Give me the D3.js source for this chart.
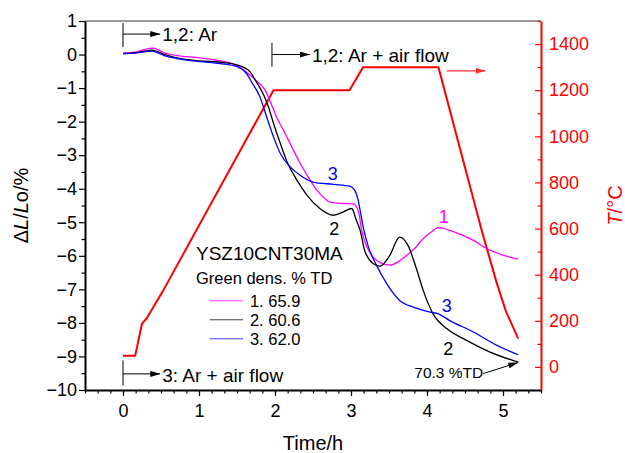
<!DOCTYPE html>
<html>
<head>
<meta charset="utf-8">
<script src="https://cdnjs.cloudflare.com/ajax/libs/d3/7.8.5/d3.min.js"></script>
<style>
    body { margin: 0; background: #fff; }
    svg { font-family: "Liberation Sans", Arial, Helvetica, sans-serif; }
</style>
</head>
<body>
<div id="chart"></div>
<script>
// curve 1 (magenta), time in h and dL/Lo in %
let time1 = [0, 0.16, 0.28, 0.4, 0.55, 0.71, 1.01, 1.28, 1.5, 1.67, 1.8, 1.87, 1.93, 2.02, 2.11, 2.22, 2.33, 2.45, 2.55, 2.65,
    2.72, 2.9, 3.03, 3.1, 3.14, 3.21, 3.29, 3.4, 3.51, 3.62, 3.73, 3.85, 3.95, 4.05, 4.15, 4.3, 4.45, 4.61, 4.79, 5.0, 5.2];
let dl1 = [0.04, 0.07, 0.15, 0.19, 0.04, -0.03, -0.1, -0.19, -0.33, -0.61, -0.88, -1.06, -1.36, -1.86, -2.25, -2.75, -3.24, -3.7, -4.04, -4.28,
    -4.4, -4.44, -4.45, -4.69, -5.24, -5.74, -6.04, -6.22, -6.28, -6.18, -5.99, -5.75, -5.49, -5.3, -5.16, -5.24, -5.37, -5.54, -5.79, -5.98, -6.1];

// curve 2 (black)
let time2 = [0, 0.16, 0.28, 0.38, 0.55, 0.71, 1.01, 1.28, 1.5, 1.67, 1.74, 1.85, 1.92, 1.98, 2.07, 2.15, 2.29, 2.42, 2.59, 2.77,
    2.9, 3.01, 3.07, 3.12, 3.18, 3.29, 3.38, 3.51, 3.64, 3.75, 3.86, 3.95, 4.08, 4.26, 4.52, 4.83, 5.2];
let dl2 = [0.03, 0.05, 0.1, 0.13, 0.0, -0.1, -0.19, -0.23, -0.31, -0.51, -0.76, -1.2, -1.6, -2.05, -2.65, -3.15, -3.75, -4.19, -4.59, -4.79,
    -4.69, -4.59, -4.94, -5.24, -5.84, -6.23, -6.31, -5.99, -5.44, -5.69, -6.38, -7.03, -7.73, -8.17, -8.52, -8.87, -9.17];

// curve 3 (blue)
let time3 = [0, 0.16, 0.28, 0.38, 0.55, 0.71, 1.01, 1.28, 1.5, 1.62, 1.7, 1.8, 1.89, 1.98, 2.07, 2.2, 2.33, 2.5, 2.77, 2.99,
    3.05, 3.09, 3.12, 3.16, 3.23, 3.34, 3.47, 3.64, 3.82, 4.04, 4.15, 4.3, 4.61, 4.92, 5.2];
let dl3 = [0.03, 0.04, 0.08, 0.1, -0.04, -0.12, -0.21, -0.27, -0.36, -0.55, -0.85, -1.25, -1.86, -2.45, -2.95, -3.35, -3.6, -3.8, -3.87, -3.93,
    -4.05, -4.3, -4.64, -5.14, -5.74, -6.3, -6.83, -7.33, -7.53, -7.68, -7.73, -7.93, -8.27, -8.67, -8.95];

// temperature program (red, right axis)
let timeT = [0, 0.16, 0.2, 0.25, 0.31, 0.4, 0.53, 1.98, 2.98, 3.16, 4.15, 4.72, 4.81, 4.91, 5.04, 5.2];
let tempT = [48, 48, 110, 188, 210, 260, 332, 1200, 1200, 1300, 1300, 592, 488, 372, 240, 123];

let xTicks = [0, 1, 2, 3, 4, 5];
let yTicks = [-10, -9, -8, -7, -6, -5, -4, -3, -2, -1, 0, 1];
let tTicks = [0, 200, 400, 600, 800, 1000, 1200, 1400];

let legendLabels = ["1. 65.9", "2. 60.6", "3. 62.0"];
let colors = ["#ff00ff", "#000000", "#0000ff"];

let margin = {top: 21, right: 84, bottom: 63, left: 85};
let width = 625 - margin.left - margin.right;
let height = 453 - margin.top - margin.bottom;

let svg = d3.select("#chart").append("svg")
    .attr("width", 625)
    .attr("height", 453)
    .append("g")
    .attr("transform", "translate(" + margin.left + "," + margin.top + ")");

let x = d3.scaleLinear().domain([-0.5, 5.5]).range([0, width]);
let y = d3.scaleLinear().domain([-10, 1]).range([height, 0]);
let yT = d3.scaleLinear().domain([-100, 1500]).range([height, 0]);

let defs = svg.append("defs");
function addArrow(id, color) {
    defs.append("marker")
        .attr("id", id)
        .attr("viewBox", "0 0 10 6")
        .attr("refX", 10).attr("refY", 3)
        .attr("markerWidth", 10).attr("markerHeight", 6)
        .attr("markerUnits", "userSpaceOnUse")
        .attr("orient", "auto")
        .append("path")
        .attr("d", "M0,0L10,3L0,6Z")
        .attr("fill", color);
}
addArrow("arrowBlack", "#000");
addArrow("arrowRed", "#ff3030");

// top frame line
svg.append("line")
    .attr("x1", 0).attr("x2", width)
    .attr("y1", 0).attr("y2", 0)
    .attr("stroke", "#7a7a7a").attr("stroke-width", 1.5);

// minor ticks first, then the labelled axes
let minorX = d3.range(-3, 34).map(d => d / 6);
svg.append("g")
    .attr("transform", "translate(0," + height + ")")
    .call(d3.axisBottom(x).tickValues(minorX).tickSize(3.5).tickFormat(""))
    .call(g => g.select(".domain").remove())
    .selectAll("line").attr("stroke-width", 1.2);

let minorY = d3.range(-19, 2, 2).map(d => d / 2);
svg.append("g")
    .call(d3.axisLeft(y).tickValues(minorY).tickSize(3.5).tickFormat(""))
    .call(g => g.select(".domain").remove())
    .selectAll("line").attr("stroke-width", 1.2);

let minorT = [-100, 100, 300, 500, 700, 900, 1100, 1300, 1500];
svg.append("g")
    .attr("transform", "translate(" + width + ",0)")
    .call(d3.axisRight(yT).tickValues(minorT).tickSize(-3.5).tickFormat(""))
    .call(g => g.select(".domain").remove())
    .selectAll("line").attr("stroke", "#ff0000").attr("stroke-width", 1.2);

let xAxis = svg.append("g")
    .attr("transform", "translate(0," + height + ")")
    .call(d3.axisBottom(x).tickValues(xTicks).tickSize(6).tickSizeOuter(0).tickPadding(8).tickFormat(d3.format("d")));

let yAxis = svg.append("g")
    .call(d3.axisLeft(y).tickValues(yTicks).tickSize(6).tickSizeOuter(0).tickPadding(2).tickFormat(d3.format("d")));

let tAxis = svg.append("g")
    .attr("transform", "translate(" + width + ",0)")
    .call(d3.axisRight(yT).tickValues(tTicks).tickSize(-6).tickSizeOuter(0).tickPadding(8).tickFormat(d3.format("d")));

[xAxis, yAxis, tAxis].forEach(g => {
    g.selectAll("text").style("font-size", "18px").style("font-family", "Liberation Sans, Arial, sans-serif");
    g.selectAll("line").attr("stroke-width", 1.2);
    g.select(".domain").attr("stroke-width", 2);
});
tAxis.selectAll("text").attr("fill", "#ff0000");
tAxis.selectAll("line").attr("stroke", "#ff0000");
tAxis.select(".domain").attr("stroke", "#ff0000");

// axis titles
svg.append("text")
    .attr("x", x(2.5)).attr("y", height + 60)
    .attr("text-anchor", "middle")
    .style("font-size", "20px")
    .text("Time/h");

let yTitle = svg.append("text")
    .attr("transform", "translate(" + (-57) + "," + (height / 2) + ") rotate(-90)")
    .attr("text-anchor", "middle")
    .style("font-size", "20px");
yTitle.append("tspan").text("Δ");
yTitle.append("tspan").style("font-style", "italic").text("L");
yTitle.append("tspan").text("/");
yTitle.append("tspan").style("font-style", "italic").text("L");
yTitle.append("tspan").text("o/%");

let tTitle = svg.append("text")
    .attr("transform", "translate(" + (width + 81) + "," + (height / 2) + ") rotate(-90)")
    .attr("text-anchor", "middle")
    .attr("fill", "#ff0000")
    .style("font-size", "20px");
tTitle.append("tspan").style("font-style", "italic").text("T");
tTitle.append("tspan").text("/°C");

// curves
let line = d3.line()
    .x(d => x(d[0]))
    .y(d => y(d[1]))
    .curve(d3.curveMonotoneX);

let series = [d3.zip(time1, dl1), d3.zip(time2, dl2), d3.zip(time3, dl3)];

svg.append("path")
    .datum(d3.zip(timeT, tempT))
    .attr("fill", "none")
    .attr("stroke", "#ff0000")
    .attr("stroke-width", 2)
    .attr("stroke-linejoin", "round")
    .attr("d", d3.line().x(d => x(d[0])).y(d => yT(d[1])));

svg.selectAll(".curve")
    .data(series)
    .enter().append("path")
    .attr("class", "curve")
    .attr("fill", "none")
    .attr("stroke", (d, i) => colors[i])
    .attr("stroke-width", 1.3)
    .attr("d", line);

// gas annotations: bar + arrow + text
function gasNote(t, yTop, yBot, yArrow, tEnd, label, yText) {
    svg.append("line")
        .attr("x1", x(t)).attr("x2", x(t))
        .attr("y1", y(yTop)).attr("y2", y(yBot))
        .attr("stroke", "#000").attr("stroke-width", 1);
    svg.append("line")
        .attr("x1", x(t)).attr("x2", x(tEnd))
        .attr("y1", y(yArrow)).attr("y2", y(yArrow))
        .attr("stroke", "#000").attr("stroke-width", 1)
        .attr("marker-end", "url(#arrowBlack)");
    svg.append("text")
        .attr("x", x(tEnd) + 2).attr("y", y(yText))
        .style("font-size", "19px")
        .text(label);
}
gasNote(0, 0.94, 0.22, 0.61, 0.49, "1,2: Ar", 0.4);
gasNote(1.96, 0.35, -0.36, 0.0, 2.46, "1,2: Ar + air flow", -0.22);
gasNote(0, -9.12, -9.87, -9.52, 0.49, "3: Ar + air flow", -9.77);

// red arrow pointing to the temperature axis
svg.append("line")
    .attr("x1", x(4.26)).attr("x2", x(4.77))
    .attr("y1", yT(1284)).attr("y2", yT(1284))
    .attr("stroke", "#ff3030").attr("stroke-width", 1.3)
    .attr("marker-end", "url(#arrowRed)");

// curve numbers
let curveLabels = [
    {t: 2.76, v: -3.75, text: "3", c: 2},
    {t: 2.78, v: -5.39, text: "2", c: 1},
    {t: 4.22, v: -5.02, text: "1", c: 0},
    {t: 4.26, v: -7.68, text: "3", c: 2},
    {t: 4.28, v: -8.97, text: "2", c: 1}
];
svg.selectAll(".clabel")
    .data(curveLabels)
    .enter().append("text")
    .attr("class", "clabel")
    .attr("x", d => x(d.t)).attr("y", d => y(d.v))
    .attr("text-anchor", "middle")
    .attr("fill", d => colors[d.c])
    .style("font-size", "18px")
    .text(d => d.text);

// final density note
svg.append("text")
    .attr("x", x(4.74)).attr("y", y(-9.63))
    .attr("text-anchor", "end")
    .style("font-size", "15.5px")
    .text("70.3 %TD");
svg.append("line")
    .attr("x1", x(4.74)).attr("x2", x(5.2))
    .attr("y1", y(-9.51)).attr("y2", y(-9.18))
    .attr("stroke", "#000").attr("stroke-width", 1)
    .attr("marker-end", "url(#arrowBlack)");

// legend
svg.append("text")
    .attr("x", x(0.96)).attr("y", y(-6.13))
    .style("font-size", "19px")
    .text("YSZ10CNT30MA");
svg.append("text")
    .attr("x", x(0.96)).attr("y", y(-6.83))
    .style("font-size", "16.5px")
    .text("Green dens. % TD");

let legend = svg.selectAll(".legend")
    .data(legendLabels)
    .enter().append("g")
    .attr("class", "legend")
    .attr("transform", (d, i) => "translate(0," + (y(-7.34) + i * 19) + ")");
legend.append("line")
    .attr("x1", x(1.14)).attr("x2", x(1.58))
    .attr("stroke", (d, i) => colors[i])
    .attr("stroke-opacity", 0.75)
    .attr("stroke-width", 1);
legend.append("text")
    .attr("x", x(1.67)).attr("y", 6)
    .style("font-size", "16.5px")
    .text(d => d);
</script>
</body>
</html>
